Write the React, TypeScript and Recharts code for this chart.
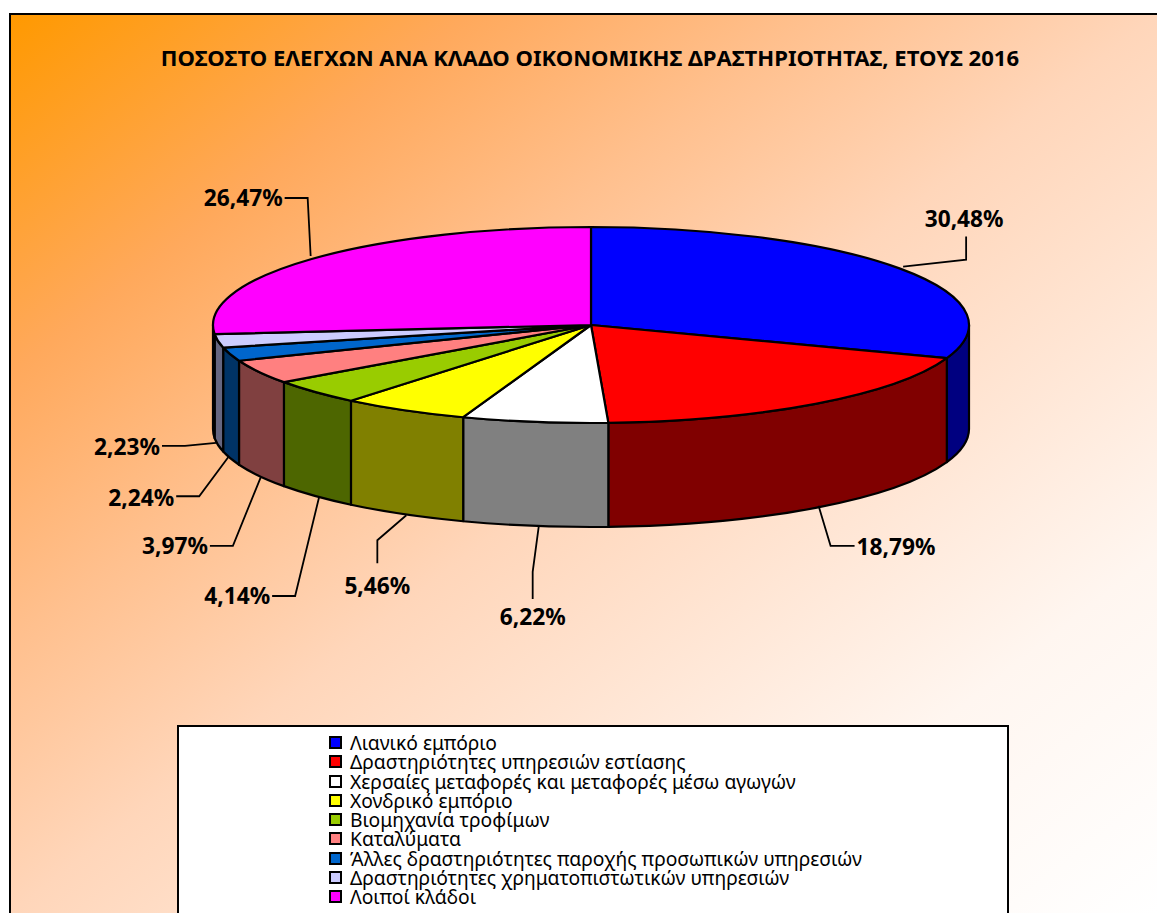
import React from 'react';
import { PieChart, Pie, Legend } from 'recharts';

const titleText = 'ΠΟΣΟΣΤΟ ΕΛΕΓΧΩΝ ΑΝΑ ΚΛΑΔΟ ΟΙΚΟΝΟΜΙΚΗΣ ΔΡΑΣΤΗΡΙΟΤΗΤΑΣ, ΕΤΟΥΣ 2016';
const categories = [
  'Λιανικό εμπόριο',
  'Δραστηριότητες υπηρεσιών εστίασης',
  'Χερσαίες μεταφορές και μεταφορές μέσω αγωγών',
  'Χονδρικό εμπόριο',
  'Βιομηχανία τροφίμων',
  'Καταλύματα',
  'Άλλες δραστηριότητες παροχής προσωπικών υπηρεσιών',
  'Δραστηριότητες χρηματοπιστωτικών υπηρεσιών',
  'Λοιποί κλάδοι',
];
const shares = [30.48, 18.79, 6.22, 5.46, 4.14, 3.97, 2.24, 2.23, 26.47];
const topColors = ['#0000FF', '#FF0000', '#FFFFFF', '#FFFF00', '#99CC00', '#FF8080', '#0066CC', '#CCCCFF', '#FF00FF'];
const wallColors = ['#000080', '#800000', '#808080', '#808000', '#4D6600', '#804040', '#003366', '#666680', '#800080'];

const rows = categories.map((name, i) => ({ name, value: shares[i], fill: topColors[i], wall: wallColors[i] }));

// Layout of the tilted pie
const CX = 591;
const CY = 325;
const RX = 378;
const TILT = 98 / 378;
const DEPTH = 104;
const FONT = '"Noto Sans", sans-serif';

// Leader offsets from each slice's rim point: elbow, end, label position, label anchor, line start
const leaders: [number, number, number, number, number, number, string, number, number][] = [
  [66, -9, 66, -32, 64, -50, 'middle', 3, -2],
  [15, 38, 39, 38, 41, 39, 'start', 3, -2],
  [-2, 46, -2, 73, -2, 91, 'middle', 4, 1],
  [-27, 26, -27, 49, -27, 71, 'middle', 2, 1],
  [-20, 100, -43, 100, -45, 100, 'end', 4, 1],
  [-26, 70, -49, 70, -51, 70, 'end', 2, 1],
  [-31, 38, -54, 38, -56, 39, 'end', -2, -1],
  [-33, 1, -56, 1, -58, 2, 'end', -2, -2],
  [-4, -61, -27, -61, -29, -61, 'end', -1, -3],
];

const rad = (d: number) => (d * Math.PI) / 180;
const pt = (cx: number, cy: number, r: number, deg: number, dy = 0) => ({
  x: cx + r * Math.cos(rad(deg)),
  y: cy - r * TILT * Math.sin(rad(deg)) + dy,
});

const TopFace = (p: any) => {
  const { cx, cy, outerRadius: r, startAngle: s, endAngle: e, fill } = p;
  const a = pt(cx, cy, r, s);
  const b = pt(cx, cy, r, e);
  const large = Math.abs(s - e) > 180 ? 1 : 0;
  return (
    <path
      d={`M${cx},${cy} L${a.x},${a.y} A${r},${r * TILT} 0 ${large} 1 ${b.x},${b.y} Z`}
      fill={fill}
      stroke="#000"
      strokeWidth={2.2}
      strokeLinejoin="round"
    />
  );
};

const Wall = (p: any) => {
  const { cx, cy, outerRadius: r, startAngle: s, endAngle: e, payload } = p;
  const from = Math.min(s, 0);
  const to = Math.max(e, -180);
  if (from <= to) return <g />;
  const a = pt(cx, cy, r, from);
  const b = pt(cx, cy, r, to);
  const rr = r * TILT;
  return (
    <path
      d={`M${a.x},${a.y} A${r},${rr} 0 0 1 ${b.x},${b.y} L${b.x},${b.y + DEPTH} A${r},${rr} 0 0 0 ${a.x},${a.y + DEPTH} Z`}
      fill={payload?.wall ?? p.wall}
      stroke="#000"
      strokeWidth={2.2}
      strokeLinejoin="round"
    />
  );
};

const rimPoint = (midAngle: number) => {
  const m = ((midAngle % 360) + 360) % 360;
  return pt(CX, CY, RX, m, m > 180 ? DEPTH : 0);
};

const LeaderLine = (p: any) => {
  const o = rimPoint(p.midAngle);
  const l = leaders[p.index];
  return (
    <polyline
      points={`${o.x + l[7]},${o.y + l[8]} ${o.x + l[0]},${o.y + l[1]} ${o.x + l[2]},${o.y + l[3]}`}
      fill="none"
      stroke="#000"
      strokeWidth={1.8}
    />
  );
};

const ValueLabel = (p: any) => {
  const o = rimPoint(p.midAngle);
  const l = leaders[p.index];
  return (
    <text
      x={o.x + l[4]}
      y={o.y + l[5]}
      textAnchor={l[6] as any}
      dominantBaseline="central"
      fontFamily={FONT}
      fontWeight={700}
      fontSize={22.7}
      fill="#000"
    >
      {shares[p.index].toFixed(2).replace('.', ',') + '%'}
    </text>
  );
};

const LegendBox = ({ payload }: any) => {
  const shown = (payload ?? []).filter((it: any) => it.type !== 'none');
  const items = shown.filter((it: any, i: number) => shown.findIndex((o: any) => o.value === it.value) === i);
  return (
    <div style={{ paddingLeft: 150, paddingTop: 6, fontFamily: FONT, fontSize: 19.25, lineHeight: '19.25px', color: '#000' }}>
      {items.map((it: any) => (
        <div key={it.value} style={{ height: 19.25, display: 'flex', alignItems: 'center', whiteSpace: 'nowrap' }}>
          <span
            style={{
              display: 'inline-block',
              boxSizing: 'border-box',
              width: 13,
              height: 13,
              border: '2px solid #000',
              background: it.color,
              marginRight: 8,
              flex: 'none',
            }}
          />
          {it.value}
        </div>
      ))}
    </div>
  );
};

export default function App() {
  return (
    <div style={{ position: 'absolute', left: 0, top: 0, width: 1157, height: 913, overflow: 'hidden', background: '#fff' }}>
      <div
        style={{
          position: 'absolute',
          left: 9,
          top: 13,
          width: 1148,
          height: 900,
          boxSizing: 'border-box',
          borderLeft: '2.5px solid #000',
          borderTop: '2.5px solid #000',
          background:
            'linear-gradient(to bottom right, #FF9900 0%, #FFA95C 20%, #FFC08E 35%, #FFD6BA 50%, #FFF6F0 80%, #FFFFFF 100%)',
        }}
      />
      <div style={{ position: 'absolute', left: 0, top: 0 }}>
        <PieChart width={1157} height={913} margin={{ top: 0, right: 0, bottom: 0, left: 0 }}>
          <text x={590} y={57} textAnchor="middle" dominantBaseline="central" fontFamily={FONT} fontWeight={700} fontSize={22.1} fill="#000">
            {titleText}
          </text>
          <Pie
            data={rows}
            dataKey="value"
            nameKey="name"
            cx={CX}
            cy={CY}
            outerRadius={RX}
            startAngle={90}
            endAngle={-270}
            stroke="none"
            legendType="none"
            shape={Wall}
            isAnimationActive={false}
          />
          <Pie
            data={rows}
            dataKey="value"
            nameKey="name"
            cx={CX}
            cy={CY}
            outerRadius={RX}
            startAngle={90}
            endAngle={-270}
            legendType="square"
            shape={TopFace}
            label={ValueLabel}
            labelLine={LeaderLine}
            isAnimationActive={false}
          />
          <Legend
            layout="vertical"
            align="center"
            verticalAlign="middle"
            itemSorter={null}
            content={<LegendBox />}
            wrapperStyle={{
              left: 177,
              top: 725,
              width: 832,
              height: 200,
              boxSizing: 'border-box',
              background: '#fff',
              border: '2px solid #000',
            }}
          />
        </PieChart>
      </div>
    </div>
  );
}
